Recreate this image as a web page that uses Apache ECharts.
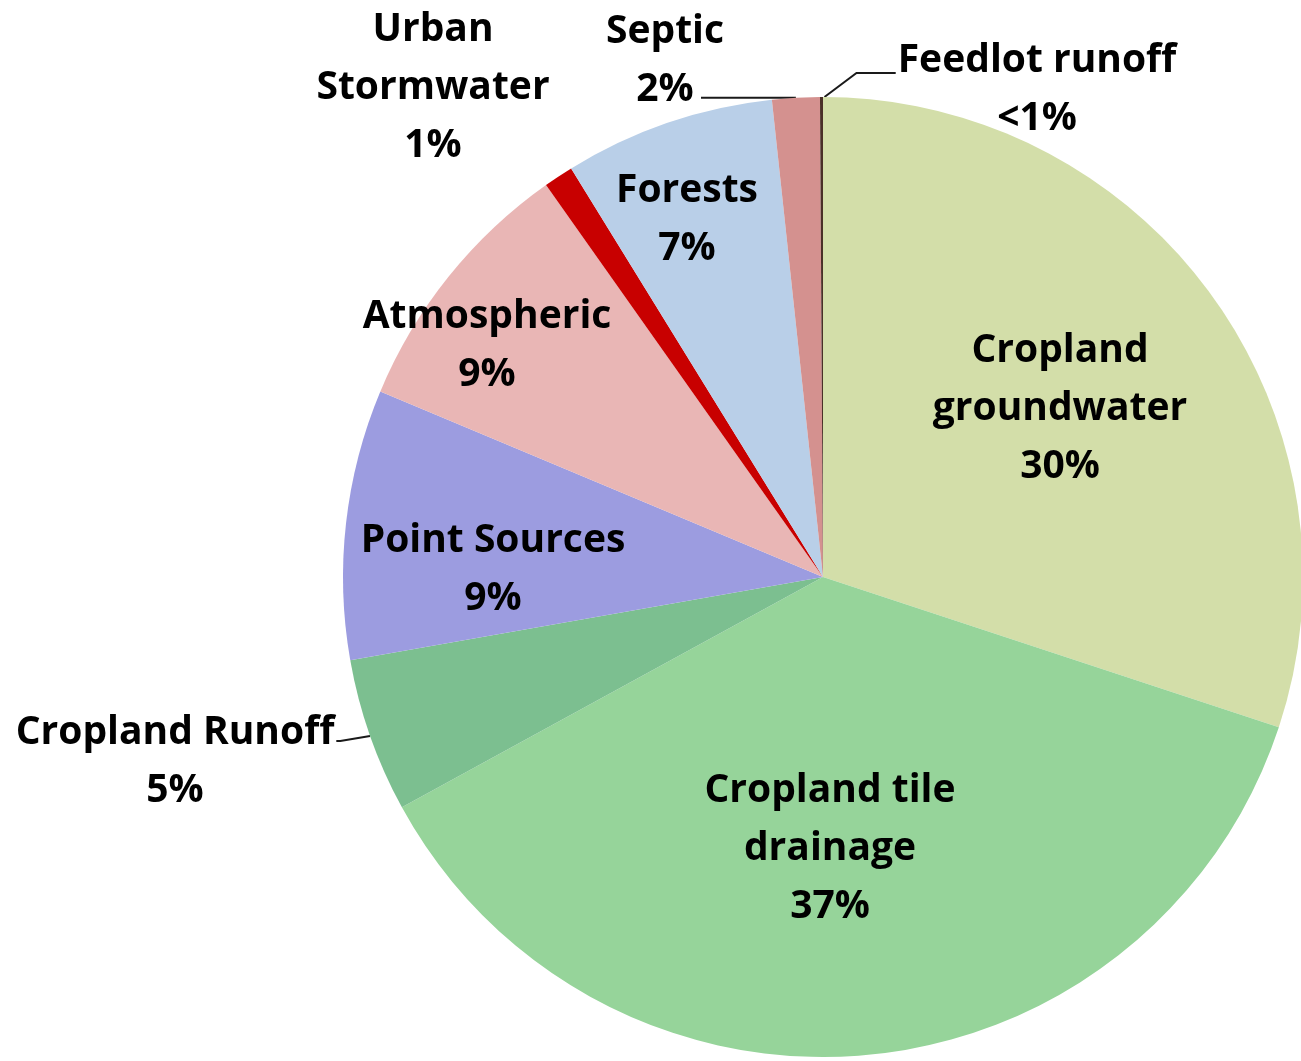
<!DOCTYPE html>
<html>
<head>
<meta charset="utf-8">
<script src="https://cdn.jsdelivr.net/npm/echarts@6/dist/echarts.min.js"></script>
<style>
html,body{margin:0;padding:0;background:#fff;}
#chart{width:1301px;height:1061px;}
</style>
</head>
<body>
<div id="chart"></div>
<script>
// Data (clockwise from 12 o'clock)
const categories = ['Cropland groundwater','Cropland tile drainage','Cropland Runoff','Point Sources','Atmospheric','Urban Stormwater','Forests','Septic','Feedlot runoff'];
const values = [30.1, 37.0, 5.2, 9.1, 8.9, 1.0, 7.1, 1.6, 0.1];
const labelTexts = ['Cropland\ngroundwater\n30%','Cropland tile\ndrainage\n37%','Cropland Runoff\n5%','Point Sources\n9%','Atmospheric\n9%','Urban\nStormwater\n1%','Forests\n7%','Septic\n2%','Feedlot runoff\n<1%'];

// Styling / layout
const colors = ['#d3dea9','#96d49a','#7cbf90','#9c9ce0','#e9b6b5','#c80000','#b9cfe8','#d4918f','#4a3028'];
const outside = [false,false,true,false,false,true,false,true,true];
const showLine = [false,false,true,false,false,false,false,true,true];
const labelPos = [[1060,409],[830,849],[175,762],[493,570],[487,346],[433,88],[687,220],[665,61],[1037,90]];
const CX = 823, CY = 577, R = 480;

const total = values.reduce((a,b)=>a+b,0);
const midAngles = [];
(function(){ let acc = 0; values.forEach(v=>{ midAngles.push((acc + v/2)/total*2*Math.PI); acc += v; }); })();
function edgePoint(i){ const a = midAngles[i]; return [CX + R*Math.sin(a), CY - R*Math.cos(a)]; }

const chart = echarts.init(document.getElementById('chart'), null, {renderer:'canvas'});
const data = categories.map((c,i)=>({
  name: c,
  value: values[i],
  itemStyle: {color: colors[i]},
  label: {position: outside[i] ? 'outside' : 'inside', formatter: labelTexts[i]},
  labelLine: {show: showLine[i], lineStyle:{color:'#1a1a1a', width:2}}
}));
chart.setOption({
  animation: false,
  series: [{
    type: 'pie',
    center: [CX, CY],
    radius: R,
    startAngle: 90,
    clockwise: true,
    avoidLabelOverlap: false,
    data: data,
    itemStyle: {borderWidth: 0},
    label: {
      show: true,
      color: '#000',
      fontFamily: 'Open Sans',
      fontWeight: 'bold',
      fontSize: 39,
      lineHeight: 58,
      align: 'center'
    },
    labelLine: {length: 10, length2: 10},
    labelLayout: function(p){
      const i = p.dataIndex;
      const pos = labelPos[i];
      const w = p.labelRect.width;
      const out = {x: pos[0], y: pos[1], align: 'center', verticalAlign: 'middle'};
      if (showLine[i]) {
        const e = edgePoint(i);
        if (i === 7) { // Septic: horizontal leader from the "2%" line
          const xr = pos[0] + 36;
          out.labelLinePoints = [[e[0], e[1]], [xr + 2, e[1]], [xr, e[1]]];
        } else if (i === 8) { // Feedlot: up-right then horizontal
          const xl = pos[0] - w/2 - 2;
          out.labelLinePoints = [[e[0]+3, e[1]], [e[0]+35, pos[1]-17], [xl, pos[1]-17]];
        } else if (i === 2) { // Cropland Runoff
          const xr = pos[0] + w/2 + 2;
          out.labelLinePoints = [[e[0], e[1]], [xr + 4, e[1] + 5], [xr, e[1] + 5]];
        }
      }
      return out;
    }
  }]
});
</script>
</body>
</html>
